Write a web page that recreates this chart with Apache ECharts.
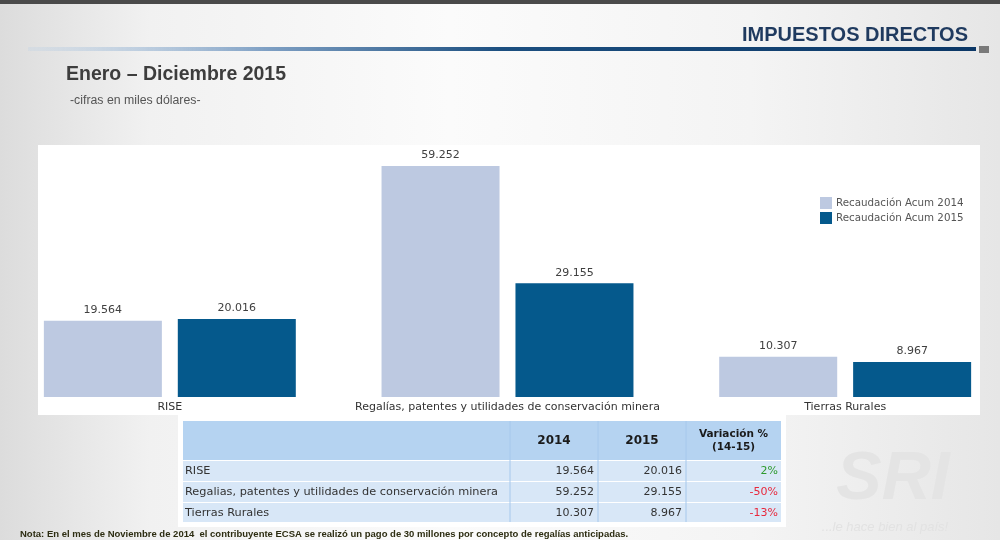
<!DOCTYPE html>
<html>
<head>
<meta charset="utf-8">
<script src="https://cdn.jsdelivr.net/npm/echarts@6/dist/echarts.min.js"></script>
<style>
  html, body { margin: 0; padding: 0; }
  body { background: linear-gradient(90deg, #dcdcdc 0%, #f1f1f1 15%, #fbfbfb 45%, #f4f4f4 75%, #e6e6e6 100%); }
  #main { width: 1000px; height: 540px; }
</style>
</head>
<body>
<div id="main"></div>
<script>
// datos en miles de dólares
const categories = ['RISE', 'Regalías, patentes y utilidades de conservación minera', 'Tierras Rurales'];
const tableLabels = ['RISE', 'Regalias, patentes y utilidades de conservación minera', 'Tierras Rurales'];
const acum2014 = [19564, 59252, 10307];
const acum2015 = [20016, 29155, 8967];
const variacion = ['2%', '-50%', '-13%'];
const seriesNames = ['Recaudación Acum 2014', 'Recaudación Acum 2015'];

const fmt = v => String(v).replace(/\B(?=(\d{3})+(?!\d))/g, '.');

const chart = echarts.init(document.getElementById('main'));

// tabla bajo el gráfico
const cols = [183, 510, 598, 686, 781];
const rowsY = [421, 460, 481, 502, 522];
const tbl = [];
tbl.push({ type: 'rect', shape: { x: 178, y: 415, width: 608, height: 112 }, style: { fill: '#fff' } });
tbl.push({ type: 'rect', shape: { x: cols[0], y: rowsY[0], width: cols[4] - cols[0], height: rowsY[1] - rowsY[0] }, style: { fill: '#b5d3f1' } });
for (let i = 0; i < 3; i++) {
  tbl.push({ type: 'rect', shape: { x: cols[0], y: rowsY[i + 1] + 1, width: cols[4] - cols[0], height: rowsY[i + 2] - rowsY[i + 1] - 1 }, style: { fill: '#d8e7f7' } });
}
for (let c = 1; c < 4; c++) {
  tbl.push({ type: 'line', shape: { x1: cols[c], y1: rowsY[0], x2: cols[c], y2: rowsY[4] }, style: { stroke: '#a6c8ec', lineWidth: 1 } });
}
const hdr = ['2014', '2015'];
hdr.forEach((h, i) => {
  tbl.push({ type: 'text', style: { text: h, x: (cols[i + 1] + cols[i + 2]) / 2, y: 441, align: 'center', verticalAlign: 'middle', font: 'bold 12px "DejaVu Sans"', fill: '#1a1a1a' } });
});
tbl.push({ type: 'text', style: { text: 'Variación %\n(14-15)', x: (cols[3] + cols[4]) / 2, y: 441, align: 'center', verticalAlign: 'middle', font: 'bold 10.5px "DejaVu Sans"', lineHeight: 13, fill: '#1a1a1a' } });
for (let i = 0; i < 3; i++) {
  const cy = (rowsY[i + 1] + rowsY[i + 2]) / 2 + 1;
  tbl.push({ type: 'text', style: { text: tableLabels[i], x: 185, y: cy, verticalAlign: 'middle', font: '11.3px "DejaVu Sans"', fill: '#333' } });
  tbl.push({ type: 'text', style: { text: fmt(acum2014[i]), x: cols[2] - 4, y: cy, align: 'right', verticalAlign: 'middle', font: '11px "DejaVu Sans"', fill: '#333' } });
  tbl.push({ type: 'text', style: { text: fmt(acum2015[i]), x: cols[3] - 4, y: cy, align: 'right', verticalAlign: 'middle', font: '11px "DejaVu Sans"', fill: '#333' } });
  tbl.push({ type: 'text', style: { text: variacion[i], x: cols[4] - 3, y: cy, align: 'right', verticalAlign: 'middle', font: '11px "DejaVu Sans"', fill: variacion[i].startsWith('-') ? '#e8283c' : '#2e9a2e' } });
}

chart.setOption({
  animation: false,
  textStyle: { fontFamily: 'DejaVu Sans' },
  graphic: [
    // franja superior
    { type: 'rect', shape: { x: 0, y: 0, width: 1000, height: 4 }, style: { fill: '#4a4a4a' } },
    { type: 'text', style: { text: 'IMPUESTOS DIRECTOS', x: 968, y: 45, align: 'right', verticalAlign: 'bottom', font: 'bold 20px "Liberation Sans"', fill: '#1f3a5f' } },
    { type: 'rect', shape: { x: 28, y: 47, width: 948, height: 4 },
      style: { fill: new echarts.graphic.LinearGradient(0, 0, 1, 0, [
        { offset: 0, color: 'rgba(190,210,230,0.3)' },
        { offset: 0.25, color: '#7fa0c4' },
        { offset: 0.5, color: '#1c4f80' },
        { offset: 1, color: '#0b3766' }
      ]) } },
    { type: 'rect', shape: { x: 979, y: 46, width: 10, height: 7 }, style: { fill: '#7a7a7a' } },
    { type: 'text', style: { text: 'Enero – Diciembre 2015', x: 66, y: 75, verticalAlign: 'middle', font: 'bold 19.5px "Liberation Sans"', fill: '#3d3d3d' } },
    { type: 'text', style: { text: '-cifras en miles dólares-', x: 70, y: 101, verticalAlign: 'middle', font: '12.3px "Liberation Sans"', fill: '#555' } },
    // panel blanco del gráfico
    { type: 'rect', z: -1, shape: { x: 38, y: 145, width: 942, height: 270 }, style: { fill: '#fff' } },
    // marca de agua SRI
    { type: 'text', style: { text: 'SRI', x: 893, y: 480, align: 'center', verticalAlign: 'middle', font: 'italic bold 68px "Liberation Sans"', fill: '#e4e4e4' } },
    { type: 'text', style: { text: '...le hace bien al país!', x: 885, y: 527, align: 'center', verticalAlign: 'middle', font: 'italic 13px "Liberation Sans"', fill: '#e2e2e2' } },
    ...tbl,
    { type: 'text', style: { text: 'Nota: En el mes de Noviembre de 2014  el contribuyente ECSA se realizó un pago de 30 millones por concepto de regalías anticipadas.', x: 20, y: 534, verticalAlign: 'middle', font: 'bold 9.5px "Liberation Sans"', fill: '#2d2d12' } }
  ],
  legend: {
    orient: 'vertical',
    left: 815, top: 192,
    itemWidth: 12, itemHeight: 12, itemGap: 3,
    icon: 'rect',
    textStyle: { fontSize: 10.3, color: '#555', padding: [0, 0, 0, -1] },
    data: seriesNames
  },
  grid: { left: 1, width: 1013, top: 163, bottom: 143, outerBoundsMode: 'none', containLabel: false },
  xAxis: {
    type: 'category',
    data: categories,
    axisLine: { show: false },
    axisTick: { show: false },
    axisLabel: { color: '#333', fontSize: 11, margin: 5, interval: 0 }
  },
  yAxis: {
    type: 'value', min: 0, max: 60000,
    show: false,
    splitLine: { show: false }
  },
  series: [
    {
      name: seriesNames[0], type: 'bar', data: acum2014,
      barWidth: 118, barGap: '13.5%',
      itemStyle: { color: '#bdc9e1' },
      label: { show: true, position: 'top', distance: 5, fontSize: 11, color: '#404040', formatter: p => fmt(p.value) }
    },
    {
      name: seriesNames[1], type: 'bar', data: acum2015,
      barWidth: 118,
      itemStyle: { color: '#05598c' },
      label: { show: true, position: 'top', distance: 5, fontSize: 11, color: '#404040', formatter: p => fmt(p.value) }
    }
  ]
});
</script>
</body>
</html>
